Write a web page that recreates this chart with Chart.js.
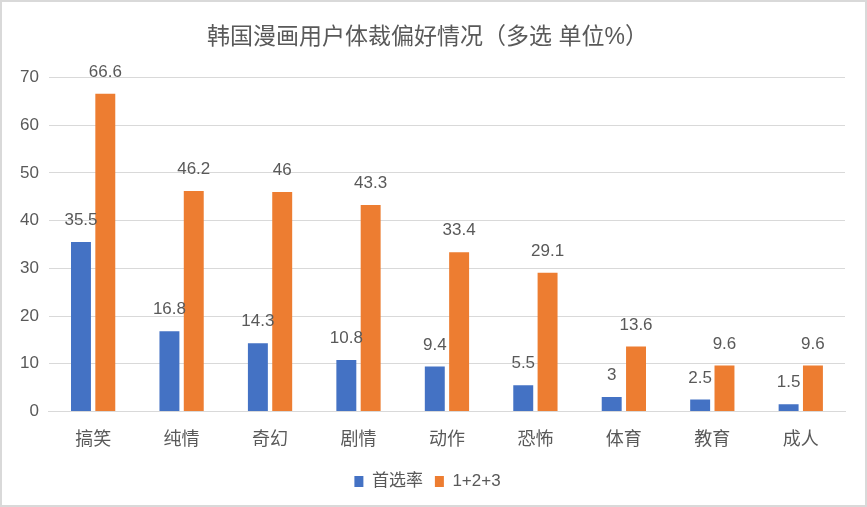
<!DOCTYPE html>
<html><head><meta charset="utf-8">
<script src="https://cdn.jsdelivr.net/npm/chart.js@4/dist/chart.umd.min.js"></script>
<style>
html,body{margin:0;padding:0;background:#fff;}
#wrap{position:absolute;left:0;top:0;width:863px;height:503px;border:2px solid #d9d9d9;background:#fff;}
</style></head>
<body><div id="wrap"><canvas id="c" width="863" height="503"></canvas></div>
<script>
const categories = ['搞笑','纯情','奇幻','剧情','动作','恐怖','体育','教育','成人'];
const firstChoice = [35.5,16.8,14.3,10.8,9.4,5.5,3,2.5,1.5];
const top3 = [66.6,46.2,46,43.3,33.4,29.1,13.6,9.6,9.6];
const yTicks = [0,10,20,30,40,50,60,70];
const FONT = "'Liberation Sans','Noto Sans CJK SC',sans-serif";

const labelPlugin = {
  id:'labels',
  afterDatasetsDraw(chart){
    const ctx = chart.ctx;
    ctx.save();
    ctx.font = "17px " + FONT;
    ctx.fillStyle = '#595959';
    ctx.textAlign = 'center';
    ctx.textBaseline = 'bottom';
    chart.data.datasets.forEach((ds,i)=>{
      chart.getDatasetMeta(i).data.forEach((bar,j)=>{
        ctx.fillText(String(ds.data[j]), bar.x, bar.y - 13);
      });
    });
    ctx.restore();
  }
};

new Chart(document.getElementById('c'),{
  type:'bar',
  data:{labels:categories,datasets:[
    {label:'首选率',data:firstChoice,backgroundColor:'#4472C4',categoryPercentage:0.55,barPercentage:0.82},
    {label:'1+2+3',data:top3,backgroundColor:'#ED7D31',categoryPercentage:0.55,barPercentage:0.82}
  ]},
  options:{
    responsive:false,animation:false,
    layout:{padding:{left:8,right:20,top:0,bottom:5}},
    plugins:{
      title:{display:true,text:'韩国漫画用户体裁偏好情况（多选 单位%）',color:'#595959',
        font:{family:FONT,size:23,weight:'normal'},padding:{top:22,bottom:26}},
      legend:{position:'bottom',labels:{color:'#595959',boxWidth:9,boxHeight:11,padding:12,
        font:{family:FONT,size:17}}},
      tooltip:{enabled:false}
    },
    scales:{
      x:{grid:{display:false},border:{color:'#d9d9d9'},
        ticks:{color:'#595959',font:{family:FONT,size:18},padding:10}},
      y:{min:0,max:70,afterBuildTicks(ax){ax.ticks=yTicks.map(v=>({value:v}));},
        grid:{color:'#d9d9d9',drawTicks:false},border:{display:false},
        ticks:{color:'#595959',font:{family:FONT,size:17},padding:10}}
    }
  },
  plugins:[labelPlugin]
});
</script></body></html>
